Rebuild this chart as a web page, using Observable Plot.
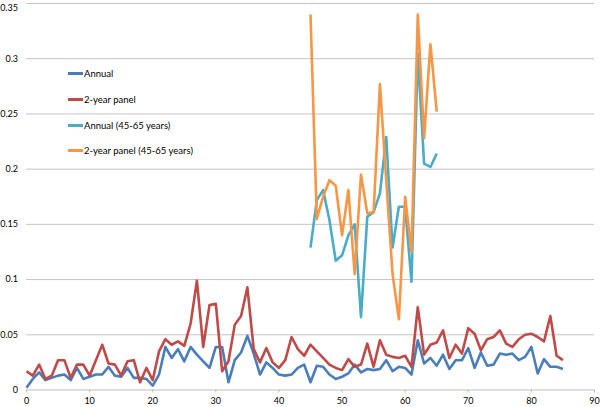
<!DOCTYPE html>
<html>
<head>
<meta charset="utf-8">
<script src="https://cdn.jsdelivr.net/npm/d3@7"></script>
<script src="https://cdn.jsdelivr.net/npm/@observablehq/plot@0.6"></script>
<style>
  body { margin: 0; background: #fff; }
  #wrap { position: relative; width: 600px; height: 407px; font-family: Lato, "Open Sans", sans-serif; }
  #legend { position: absolute; left: 68px; top: 0; font-size: 9.5px; color: #000; }
  .row { position: absolute; left: 0; white-space: nowrap; display: flex; align-items: center; height: 12px; }
  .sw { display: inline-block; width: 15px; height: 3px; margin-right: 1px; }
</style>
</head>
<body>
<div id="wrap"><div id="legend"></div></div>
<script>
const seriesNames = ["Annual", "2-year panel", "Annual (45-65 years)", "2-year panel (45-65 years)"];
const seriesColors = ["#4a7ebb", "#be4b48", "#4bacc6", "#f79646"];

const annual = [0.002,0.010,0.016,0.009,0.011,0.013,0.014,0.009,0.020,0.010,
  0.012,0.014,0.014,0.021,0.013,0.012,0.020,0.011,0.011,0.010,
  0.004,0.014,0.039,0.029,0.037,0.026,0.039,0.032,0.026,0.020,
  0.039,0.039,0.007,0.027,0.034,0.049,0.033,0.014,0.025,0.020,
  0.014,0.013,0.014,0.020,0.023,0.007,0.022,0.021,0.014,0.010,
  0.012,0.015,0.023,0.016,0.019,0.018,0.019,0.027,0.017,0.021,
  0.020,0.014,0.045,0.024,0.029,0.022,0.032,0.019,0.027,0.027,
  0.038,0.020,0.034,0.022,0.023,0.033,0.032,0.033,0.027,0.030,
  0.039,0.015,0.028,0.021,0.021,0.019];

const panel2 = [0.017,0.013,0.023,0.010,0.013,0.027,0.027,0.011,0.023,0.023,
  0.013,0.027,0.041,0.024,0.023,0.013,0.026,0.027,0.007,0.020,
  0.009,0.035,0.046,0.041,0.044,0.040,0.060,0.099,0.039,0.077,
  0.078,0.017,0.026,0.059,0.067,0.093,0.037,0.025,0.038,0.025,
  0.020,0.027,0.048,0.037,0.031,0.041,0.035,0.029,0.023,0.020,
  0.018,0.028,0.021,0.023,0.042,0.021,0.045,0.032,0.030,0.029,
  0.031,0.021,0.075,0.032,0.041,0.043,0.054,0.029,0.041,0.033,
  0.056,0.051,0.036,0.046,0.048,0.054,0.042,0.039,0.046,0.050,
  0.051,0.048,0.044,0.067,0.031,0.027];

const annual4565 = [0.129,0.172,0.181,0.154,0.117,0.122,0.140,0.150,0.066,0.157,
  0.161,0.178,0.229,0.129,0.166,0.166,0.098,0.305,0.205,0.202,0.214];

const panel4565 = [0.340,0.155,0.175,0.190,0.185,0.140,0.181,0.105,0.195,0.160,
  0.161,0.277,0.190,0.105,0.064,0.175,0.125,0.340,0.228,0.313,0.252];

const xTicks = [0,10,20,30,40,50,60,70,80,90];
const yTicks = [0,0.05,0.1,0.15,0.2,0.25,0.3];
const yTopTick = [0.35];

const rows = [];
annual.forEach((v, i) => rows.push({x: i, y: v, s: seriesNames[0]}));
panel2.forEach((v, i) => rows.push({x: i, y: v, s: seriesNames[1]}));
annual4565.forEach((v, i) => rows.push({x: 45 + i, y: v, s: seriesNames[2]}));
panel4565.forEach((v, i) => rows.push({x: 45 + i, y: v, s: seriesNames[3]}));

const fmt = d => String(+(+d).toFixed(2));

const chart = Plot.plot({
  width: 600,
  height: 407,
  marginLeft: 26,
  marginRight: 6,
  marginTop: 3,
  marginBottom: 17.5,
  style: { fontFamily: "Lato, 'Open Sans', sans-serif", fontSize: "9px", color: "#000", background: "#fff", overflow: "visible" },
  x: { domain: [0, 90], label: null },
  y: { domain: [0, 0.35], label: null },
  color: { domain: seriesNames, range: seriesColors },
  marks: [
    Plot.gridY([...yTicks.slice(1), ...yTopTick], { stroke: "#c4c4c4", strokeOpacity: 1, strokeWidth: 1 }),
    Plot.ruleY([0], { stroke: "#bdbdbd", strokeWidth: 1 }),
    Plot.axisX({ ticks: xTicks, tickSize: 3, tickPadding: 5, stroke: "#bdbdbd", tickFormat: d => String(d), fill: "#000", label: null }),
    Plot.axisY({ ticks: yTicks, tickSize: 0, tickPadding: 8.5, tickFormat: fmt, fill: "#000", label: null }),
    Plot.axisY({ ticks: yTopTick, tickSize: 0, tickPadding: 8.5, tickFormat: fmt, fill: "#000", dy: 5, label: null }),
    Plot.line(rows, { x: "x", y: "y", z: "s", stroke: "s", strokeWidth: 2.6, strokeLinejoin: "round", strokeLinecap: "butt" })
  ]
});
document.getElementById("wrap").prepend(chart);

const legend = document.getElementById("legend");
const rowTops = [73, 99, 125, 150];
seriesNames.forEach((name, i) => {
  const r = document.createElement("div");
  r.className = "row";
  r.style.top = (rowTops[i] - 6) + "px";
  const sw = document.createElement("span");
  sw.className = "sw";
  sw.style.background = seriesColors[i];
  r.appendChild(sw);
  r.appendChild(document.createTextNode(name));
  legend.appendChild(r);
});
</script>
</body>
</html>
